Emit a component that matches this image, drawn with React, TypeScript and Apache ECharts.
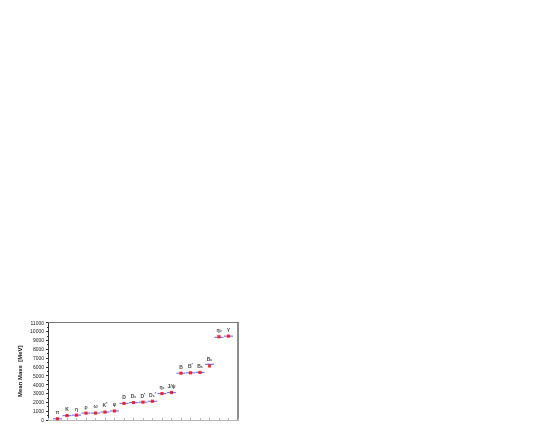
import React, { useEffect, useRef } from "react";
import * as echarts from "echarts";

// Particle labels (base symbol, subscript, superscript)
const labelBase = ["π", "K", "η", "ρ", "ω", "K", "φ", "D", "D", "D", "D", "η", "J/ψ", "B", "B", "B", "B", "η", "Υ"];
const labelSub = ["", "", "", "", "", "", "", "", "s", "", "s", "c", "", "", "", "s", "c", "b", ""];
const labelSup = ["", "", "", "", "", "*", "", "", "", "*", "*", "", "", "", "*", "", "", "", ""];

// Mean masses (red points) and reference masses (blue bars), MeV
const meanMass = [140, 494, 548, 775, 783, 892, 1019, 1869, 1968, 2010, 2112, 2984, 3097, 5279, 5325, 5367, 6100, 9400, 9460];
const refMass = [140, 494, 548, 775, 783, 892, 1019, 1869, 1968, 2010, 2112, 2984, 3097, 5279, 5325, 5367, 6280, 9330, 9460];

const yTicks = { min: 0, max: 11000, interval: 1000 };

export default function App() {
  const ref = useRef<HTMLDivElement>(null);
  useEffect(() => {
    if (!ref.current) return;
    const chart = echarts.init(ref.current, null, { renderer: "svg" });
    const pts = meanMass.map((v, i) => [i + 1, v]);
    const bars = refMass.map((v, i) => [i + 1, v]);
    const fmt = (p: any) => {
      const i = p.dataIndex;
      let s = `{b|${labelBase[i]}}`;
      if (labelSub[i]) s += `{s|${labelSub[i]}}`;
      if (labelSup[i]) s += `{p|${labelSup[i]}}`;
      return s;
    };
    chart.setOption({
      animation: false,
      grid: { left: 48, right: 307, top: 322.5, bottom: 16, containLabel: false },
      xAxis: [
        {
          type: "value",
          min: 0,
          max: 20,
          interval: 1,
          axisLine: { show: true, lineStyle: { color: "#b8b8b8", width: 1 } },
          axisTick: { show: true, inside: true, length: 2, lineStyle: { color: "#b8b8b8" } },
          axisLabel: { show: false },
          splitLine: { show: false },
        },
        {
          type: "value",
          position: "top",
          min: 0,
          max: 20,
          axisLine: { show: true, onZero: false, lineStyle: { color: "#777", width: 1 } },
          axisTick: { show: false },
          axisLabel: { show: false },
          splitLine: { show: false },
        },
      ],
      yAxis: [
        {
          type: "value",
          min: yTicks.min,
          max: yTicks.max,
          interval: yTicks.interval,
          name: "Mean Mass  [MeV]",
          nameLocation: "middle",
          nameRotate: 90,
          nameGap: 25,
          nameTextStyle: { fontSize: 6, color: "#111", fontFamily: "Liberation Sans Narrow, Liberation Sans", fontWeight: "bold" },
          axisLine: { show: true, onZero: false, lineStyle: { color: "#333", width: 1 } },
          axisTick: { show: true, inside: false, length: 2, lineStyle: { color: "#333" } },
          minorTick: { show: true, splitNumber: 2, length: 1, lineStyle: { color: "#333" } },
          axisLabel: { fontSize: 5, color: "#222", margin: 4, fontFamily: "Liberation Sans", formatter: (v: number) => String(v) },
          splitLine: { show: false },
        },
        {
          type: "value",
          position: "right",
          min: yTicks.min,
          max: yTicks.max,
          axisLine: { show: true, onZero: false, lineStyle: { color: "#666", width: 1.5 } },
          axisTick: { show: false },
          axisLabel: { show: false },
          splitLine: { show: false },
        },
      ],
      series: [
        {
          type: "scatter",
          data: bars,
          symbol: "rect",
          symbolSize: [9, 1.2],
          itemStyle: { color: "#4f5bff" },
          z: 2,
        },
        {
          type: "scatter",
          data: pts,
          symbol: "rect",
          symbolSize: 3.2,
          itemStyle: { color: "#ff0000" },
          z: 3,
          label: {
            show: true,
            position: "top",
            distance: 2,
            formatter: fmt,
            rich: {
              b: { fontSize: 5, fontWeight: "bold", color: "#111", fontFamily: "Liberation Sans", lineHeight: 6 },
              s: { fontSize: 3.5, fontWeight: "bold", color: "#111", fontFamily: "Liberation Sans", verticalAlign: "bottom", lineHeight: 6, padding: [2, 0, 0, 0] },
              p: { fontSize: 3.5, fontWeight: "bold", color: "#111", fontFamily: "Liberation Sans", verticalAlign: "top", lineHeight: 6, padding: [0, 0, 2, 0] },
            },
          },
        },
      ],
    });
    return () => chart.dispose();
  }, []);
  return <div ref={ref} style={{ position: "fixed", left: 0, top: 0, width: 545, height: 436 }} />;
}
